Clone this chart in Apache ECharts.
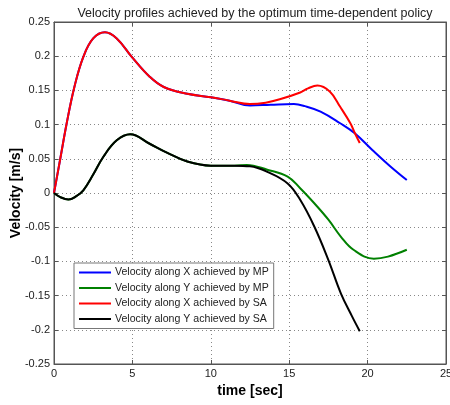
<!DOCTYPE html>
<html><head><meta charset="utf-8">
<script src="https://cdn.jsdelivr.net/npm/echarts@6/dist/echarts.min.js"></script>
<style>html,body{margin:0;padding:0;background:#fff}#c{width:450px;height:405px}</style>
</head><body><div id="c"></div>
<script>
// Data
var tSA  = [0, 0.4, 0.81, 1.3, 1.87, 2.5, 3.25, 4.0, 4.96, 6.1, 7.0, 8.5, 10, 11.2, 12.5, 13.5, 14.4, 15.7, 16.2, 16.8, 17.6, 18.25, 18.9, 19.2, 19.5];
var vxSA = [0, 0.05, 0.102, 0.155, 0.199, 0.226, 0.235, 0.226, 0.199, 0.170, 0.155, 0.145, 0.140, 0.135, 0.130, 0.132, 0.137, 0.147, 0.153, 0.157, 0.148, 0.126, 0.102, 0.087, 0.073];
var tSAy = [0, 0.4, 0.92, 1.4, 1.87, 2.5, 3.15, 4.0, 4.86, 6.1, 7.2, 8.5, 10, 11.5, 12.5, 13.6, 14.9, 15.7, 16.6, 17.5, 18.3, 19.0, 19.5];
var vySA = [0, -0.006, -0.0095, -0.005, 0.004, 0.027, 0.053, 0.077, 0.086, 0.072, 0.059, 0.046, 0.040, 0.040, 0.039, 0.031, 0.014, -0.010, -0.049, -0.098, -0.147, -0.180, -0.202];
var tMP  = [0, 0.4, 0.81, 1.3, 1.87, 2.5, 3.25, 4.0, 4.96, 6.1, 7.0, 8.5, 10, 11.2, 12.5, 13.8, 15.3, 16.0, 17.0, 18.25, 19.2, 20.3, 21.4, 22.5];
var vxMP = [0, 0.05, 0.102, 0.155, 0.199, 0.226, 0.235, 0.226, 0.199, 0.170, 0.155, 0.145, 0.140, 0.135, 0.128, 0.129, 0.130, 0.127, 0.119, 0.102, 0.087, 0.063, 0.040, 0.019];
var tMPy = [0, 0.4, 0.92, 1.4, 1.87, 2.5, 3.15, 4.0, 4.86, 6.1, 7.2, 8.5, 10, 11.5, 12.3, 13.6, 14.9, 15.7, 16.6, 17.5, 18.3, 19.1, 20.4, 21.3, 22.5];
var vyMP = [0, -0.006, -0.0095, -0.005, 0.004, 0.027, 0.053, 0.077, 0.086, 0.072, 0.059, 0.046, 0.040, 0.040, 0.041, 0.034, 0.024, 0.007, -0.015, -0.039, -0.064, -0.083, -0.096, -0.093, -0.083];
var names = ['Velocity along X achieved by MP', 'Velocity along Y achieved by MP', 'Velocity along X achieved by SA', 'Velocity along Y achieved by SA'];
var colors = ['#0000ff', '#008000', '#ff0000', '#000000'];

function pairs(t, v) { return t.map(function (x, i) { return [x, v[i]]; }); }
var sets = [pairs(tMP, vxMP), pairs(tMPy, vyMP), pairs(tSA, vxSA), pairs(tSAy, vySA)];

var font = 'Liberation Sans, Arial, Helvetica, sans-serif';
var gridLine = { show: true, lineStyle: { color: '#888', type: [1, 3], width: 1 } };
var chart = echarts.init(document.getElementById('c'), null, { renderer: 'canvas' });
chart.setOption({
  backgroundColor: '#fff',
  animation: false,
  title: {
    text: 'Velocity profiles achieved by the optimum time-dependent policy',
    left: 250, textAlign: 'center', top: 2,
    textStyle: { fontFamily: font, fontSize: 12.5, fontWeight: 'normal', color: '#222' }
  },
  grid: { left: 54, right: 4, top: 22, bottom: 41, show: true, borderColor: '#555', borderWidth: 1,
    containLabel: false, outerBoundsMode: 'none' },
  legend: {
    orient: 'vertical', left: 74, top: 263,
    data: names,
    icon: 'rect', itemWidth: 32, itemHeight: 2, itemGap: 2.5,
    padding: [3, 5, 3, 5],
    backgroundColor: '#fff', borderColor: '#777', borderWidth: 1,
    textStyle: { fontFamily: font, fontSize: 10.6, color: '#222', lineHeight: 13, padding: [0, 0, 0, -1] }
  },
  xAxis: [{
    type: 'value', min: 0, max: 25, interval: 5,
    name: 'time [sec]', nameLocation: 'middle', nameGap: 20, nameMoveOverlap: false,
    nameTextStyle: { fontFamily: font, fontSize: 14, fontWeight: 'bold', color: '#000' },
    axisLine: { show: true, onZero: false, lineStyle: { color: '#555' } },
    axisTick: { show: true, inside: true, length: 4, lineStyle: { color: '#555' } },
    axisLabel: { fontFamily: font, fontSize: 11, color: '#222', margin: 4 },
    splitLine: gridLine
  }, {
    type: 'value', min: 0, max: 25, interval: 5, position: 'top',
    axisLine: { show: true, onZero: false, lineStyle: { color: '#555' } },
    axisTick: { show: true, inside: true, length: 4, lineStyle: { color: '#555' } },
    axisLabel: { show: false }, splitLine: { show: false }
  }],
  yAxis: [{
    type: 'value', min: -0.25, max: 0.25, interval: 0.05,
    name: 'Velocity [m/s]', nameLocation: 'middle', nameGap: 31, nameMoveOverlap: false,
    nameTextStyle: { fontFamily: font, fontSize: 14, fontWeight: 'bold', color: '#000' },
    axisLine: { show: true, onZero: false, lineStyle: { color: '#555' } },
    axisTick: { show: true, inside: true, length: 4, lineStyle: { color: '#555' } },
    axisLabel: { fontFamily: font, fontSize: 11, color: '#222', margin: 4,
      formatter: function (v) { return String(Math.round(v * 100) / 100); } },
    splitLine: gridLine
  }, {
    type: 'value', min: -0.25, max: 0.25, interval: 0.05, position: 'right',
    axisLine: { show: true, onZero: false, lineStyle: { color: '#555' } },
    axisTick: { show: true, inside: true, length: 4, lineStyle: { color: '#555' } },
    axisLabel: { show: false }, splitLine: { show: false }
  }],
  series: sets.map(function (d, i) {
    return {
      name: names[i], type: 'line', data: d, smooth: 0.4, showSymbol: false,
      xAxisIndex: 0, yAxisIndex: 0,
      lineStyle: { color: colors[i], width: 2 }, itemStyle: { color: colors[i] }
    };
  })
});
</script></body></html>
